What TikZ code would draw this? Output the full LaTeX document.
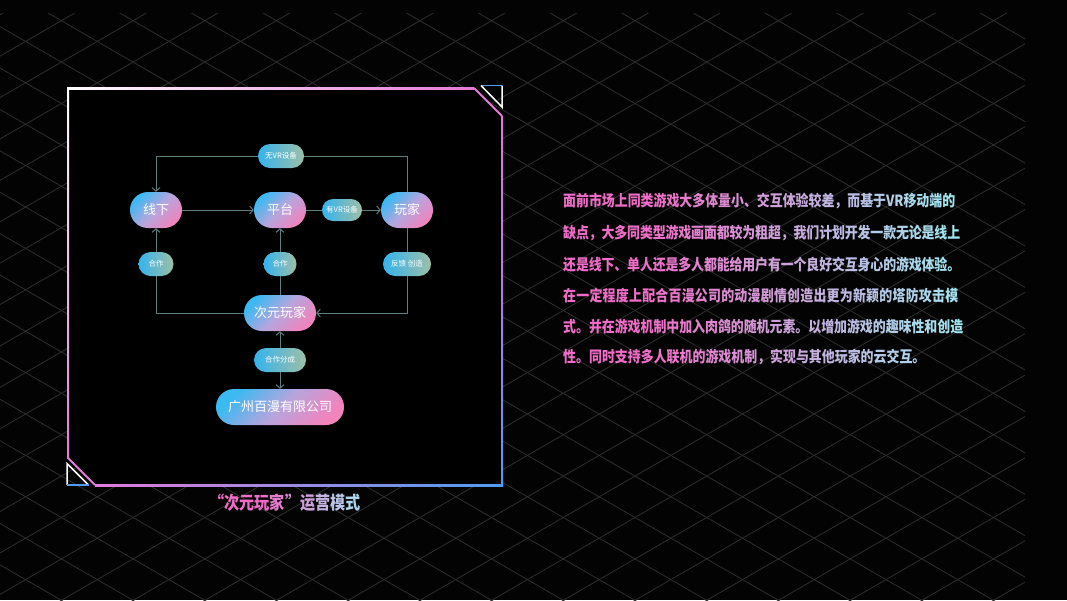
\documentclass[tikz,border=0pt]{standalone}
\usepackage{fontspec}
\usepackage{xcolor}
\usetikzlibrary{arrows.meta, positioning, calc, shapes.misc}
\setmainfont{Noto Sans CJK SC}
\newfontfamily\paratext[FakeStretch=0.84]{Noto Sans CJK SC}
\definecolor{bgblack}{HTML}{030303}
\definecolor{gridgray}{HTML}{2E2E2E}
\definecolor{nodecyan}{HTML}{3BB9F2}
\definecolor{nodelav}{HTML}{B6A5DD}
\definecolor{nodepink}{HTML}{F183BD}
\definecolor{tagblue}{HTML}{35B3EE}
\definecolor{taggreen}{HTML}{9DBFA6}
\definecolor{linkgray}{HTML}{5E7E80}
\definecolor{framepink}{HTML}{E47AD8}
\definecolor{framepurple}{HTML}{B07BE6}
\definecolor{frameblue}{HTML}{4F9CF2}
\definecolor{txtpink}{HTML}{F06CC8}
\definecolor{txtcyan}{HTML}{A0E8F2}

% colour every character between pink and cyan
\newcount\gradidx
\newcommand\gradtext[3]{\gradidx=0\def\gradstart{#1}\def\gradspan{#2}\gradloop#3\relax}
\def\gradloop#1{%
  \ifx#1\relax\else
    \ifnum\gradidx>0 \hskip0pt plus 1pt minus 1pt\fi
    \pgfmathtruncatemacro\gradmix{max(0,min(100,100*(\gradidx-\gradstart)/\gradspan))}%
    \textcolor{txtcyan!\gradmix!txtpink}{#1}%
    \advance\gradidx by 1
    \expandafter\gradloop
  \fi}

\begin{document}
\begin{tikzpicture}[x=1pt, y=-1pt,
    bignode/.style={rounded rectangle, minimum height=36pt, inner sep=0pt, text=white,
      font=\fontsize{13}{15}\selectfont,
      top color=nodecyan, bottom color=nodepink, middle color=nodelav, shading angle=45},
    tagnode/.style={rounded rectangle, minimum height=24pt, inner sep=0pt, text=white,
      font=\fontsize{7.5}{9}\selectfont, left color=tagblue, right color=taggreen},
    link/.style={draw=linkgray, line width=1pt},
    arr/.style={link, -{Straight Barb[length=3.5pt, width=8pt]}},
    gridline/.style={gridgray, line width=0.8pt},
    paraline/.style={anchor=west, inner sep=0pt, font=\paratext\bfseries\fontsize{15.4}{17}\selectfont}]
    \useasboundingbox (0,0) rectangle (1067,600);
    \fill[bgblack] (0,0) rectangle (1067,600);
    % Grid
    \begin{scope}
        \clip (0,13) rectangle (1025,600);
        \foreach \k in {-15,...,15} {
            \draw[gridline] (-10,{-14.75+41.4*\k-5.77}) -- (1040,{-14.75+41.4*\k+600.5});
        }
        \foreach \k in {-2,...,29} {
            \draw[gridline] (-10,{56.15+41.4*\k+5.77}) -- (1040,{56.15+41.4*\k-600.5});
        }
    \end{scope}
    % Frame
    \fill[black] (68,88) -- (474,88) -- (502,116) -- (502,485) -- (95,485) -- (68,458) -- cycle;
    \shade[left color=white, right color=framepink] (67,87) rectangle (474,89);
    \shade[top color=framepink, bottom color=frameblue, middle color=framepurple] (501,116) rectangle (503,486);
    \shade[left color=framepink, right color=frameblue] (95,484) rectangle (503,486);
    \shade[top color=white, bottom color=framepink] (67,87) rectangle (69,458);
    \draw[framepink, line width=2pt] (474,88) -- (502,116);
    \draw[framepink, line width=2pt] (68,458) -- (95,485);
    \draw[frameblue, line width=1.5pt] (481,85.5) -- (502,85.5);
    \draw[white, line width=1.5pt] (502,85.5) -- (502,107) -- (481,85.5);
    \draw[white, line width=1.5pt] (67,485) -- (67,463.5) -- (88.5,485);
    \draw[frameblue, line width=1.5pt] (67,485) -- (88.5,485);
    % Nodes
    \node[bignode, minimum width=52pt] (xianxia) at (156,210) {线下};
    \node[bignode, minimum width=52pt] (pingtai) at (280,210) {平台};
    \node[bignode, minimum width=52pt] (wanjia) at (407,210) {玩家};
    \node[bignode, minimum width=72pt] (ciyuan) at (280,313) {次元玩家};
    \node[bignode, minimum width=128pt] (baiman) at (280,407) {广州百漫有限公司};
    \node[tagnode, minimum width=46pt] (wuvr) at (281,156) {无VR设备};
    \node[tagnode, minimum width=40pt, minimum height=22pt] (youvr) at (342,210) {有VR设备};
    \node[tagnode, minimum width=35pt] (hezuoL) at (156,264) {合作};
    \node[tagnode, minimum width=33pt] (hezuoM) at (280,264) {合作};
    \node[tagnode, minimum width=48pt] (fankui) at (407,264) {反馈 创造};
    \node[tagnode, minimum width=52pt] (fencheng) at (280,360) {合作分成};
    % Links
    \draw[link] (wanjia.north) |- (wuvr.east);
    \draw[arr] (wuvr.west) -| (xianxia.north);
    \draw[arr] (xianxia.east) -- (pingtai.west);
    \draw[link] (pingtai.east) -- (youvr.west);
    \draw[arr] (youvr.east) -- (wanjia.west);
    \draw[link] (ciyuan.west) -| (hezuoL.south);
    \draw[arr] (hezuoL.north) -- (xianxia.south);
    \draw[link] (ciyuan.north) -- (hezuoM.south);
    \draw[arr] (hezuoM.north) -- (pingtai.south);
    \draw[link] (wanjia.south) -- (fankui.north);
    \draw[arr] (fankui.south) |- (ciyuan.east);
    \draw[arr] (fencheng.north) -- (ciyuan.south);
    \draw[arr] (fencheng.south) -- (baiman.north);
    % Caption
    \node[inner sep=0pt, font=\paratext\bfseries\fontsize{18}{20}\selectfont] (caption) at (285,503)
        {\gradtext{3}{7}{“次元玩家”运营模式}};
    % Text
    \node[paraline] (line1) at (563,201) {\makebox[392pt][s]{\gradtext{6}{24}{面前市场上同类游戏大多体量小、交互体验较差，而基于VR移动端的}}};
    \node[paraline] (line2) at (563,233) {\makebox[397pt][s]{\gradtext{6}{24}{缺点，大多同类型游戏画面都较为粗超，我们计划开发一款无论是线上}}};
    \node[paraline] (line3) at (563,265) {\makebox[397pt][s]{\gradtext{6}{24}{还是线下、单人还是多人都能给用户有一个良好交互身心的游戏体验。}}};
    \node[paraline] (line4) at (563,296) {\makebox[395pt][s]{\gradtext{6}{24}{在一定程度上配合百漫公司的动漫剧情创造出更为新颖的塔防攻击模}}};
    \node[paraline] (line5) at (563,327) {\makebox[400pt][s]{\gradtext{6}{24}{式。并在游戏机制中加入肉鸽的随机元素。以增加游戏的趣味性和创造}}};
    \node[paraline] (line6) at (563,357) {\gradtext{6}{24}{性。同时支持多人联机的游戏机制，实现与其他玩家的云交互。}};
\end{tikzpicture}
\end{document}
